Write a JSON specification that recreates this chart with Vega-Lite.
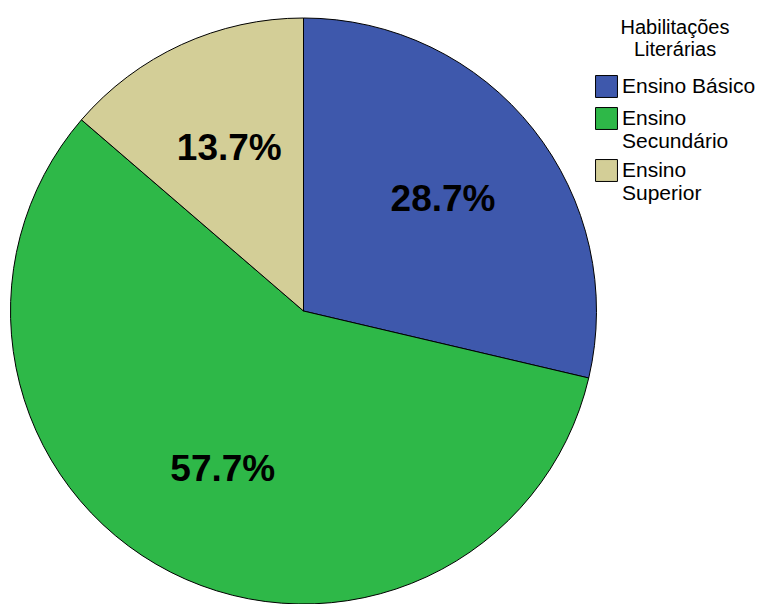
{
  "$schema": "https://vega.github.io/schema/vega-lite/v6.json",
  "autosize": "none",
  "width": 587,
  "height": 586,
  "padding": {"left": 10, "top": 18, "right": 183, "bottom": 0},
  "background": "white",
  "config": {"view": {"stroke": null}, "font": "Liberation Sans"},
  "data": {
    "values": [
      {"cat": "Ensino Básico", "pct": 28.7, "label": "28.7%"},
      {"cat": "Ensino Secundário", "pct": 57.7, "label": "57.7%"},
      {"cat": "Ensino Superior", "pct": 13.7, "label": "13.7%"}
    ]
  },
  "encoding": {
    "theta": {"field": "pct", "type": "quantitative", "stack": true},
    "order": {"field": "cat", "type": "nominal", "sort": "ascending"}
  },
  "layer": [
    {
      "mark": {"type": "arc", "stroke": "black", "strokeWidth": 1, "radius": 293},
      "encoding": {
        "color": {
          "field": "cat",
          "type": "nominal",
          "scale": {
            "domain": ["Ensino Básico", "Ensino Secundário", "Ensino Superior"],
            "range": ["#3E58AC", "#2EB848", "#D3CE97"]
          },
          "legend": {
            "title": ["Habilitações", "Literárias"],
            "titleFontSize": 20,
            "titleFontWeight": "normal",
            "titleColor": "black",
            "titleAnchor": "middle",
            "titleAlign": "center",
            "titleLineHeight": 22,
            "titlePadding": 15,
            "labelFontSize": 21,
            "labelColor": "black",
            "labelLimit": 300,
            "labelExpr": "split(replace(datum.label, 'Ensino S', 'Ensino\\nS'), '\\n')",
            "symbolType": "square",
            "symbolSize": 480,
            "symbolStrokeColor": "black",
            "symbolStrokeWidth": 1,
            "symbolOpacity": 1,
            "rowPadding": 5,
            "labelOffset": 4,
            "offset": -2
          }
        }
      }
    },
    {
      "mark": {"type": "text", "radius": 178, "fontSize": 37, "fontWeight": "bold", "color": "black", "font": "Liberation Sans"},
      "encoding": {
        "text": {"field": "label", "type": "nominal"}
      }
    }
  ]
}
